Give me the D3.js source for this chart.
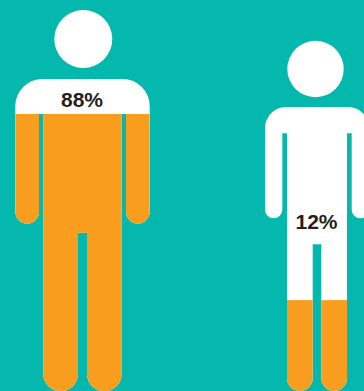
<!DOCTYPE html>
<html>
<head>
<meta charset="utf-8">
<script src="https://cdn.jsdelivr.net/npm/d3@7"></script>
<style>html,body{margin:0;padding:0;background:#05b8ae}svg{display:block}</style>
</head>
<body>
<script>
const labels = ["88%", "12%"];
// Share of each silhouette's body height that is orange, as drawn in the picture
const filledShare = [0.888, 0.32];

const width = 364, height = 391;
const colors = {bg: "#05b8ae", body: "#ffffff", fill: "#f99d1f", text: "#231f20"};

const figures = [
  {headX: 83.3, headY: 39, headR: 29, top: 79, bottom: 391.3, left: 15.3, right: 149.7,
   corner: 27, armIn: 39, bodyL: 43.3, legL: 78, armpit: 114, armEnd: 223.7, crotch: 232.7,
   labelX: 82, labelY: 106.5},
  {headX: 315.5, headY: 69, headR: 28.2, top: 107, bottom: 391, left: 265, right: 369,
   corner: 21, armIn: 282.3, bodyL: 287, legL: 312.7, armpit: 133.3, armEnd: 218.3, crotch: 244.3,
   labelX: 316.5, labelY: 229}
];

function silhouette(f) {
  const mirror = x => f.left + f.right - x;
  const armR = (f.armIn - f.left) / 2;
  const legR = (f.legL - f.bodyL) / 2;
  const p = d3.path();
  p.moveTo(f.left + f.corner, f.top);
  p.lineTo(f.right - f.corner, f.top);
  p.arcTo(f.right, f.top, f.right, f.top + f.corner, f.corner);
  p.lineTo(f.right, f.armEnd - armR);
  p.arc(f.right - armR, f.armEnd - armR, armR, 0, Math.PI);
  p.lineTo(mirror(f.armIn), f.armpit);
  p.lineTo(mirror(f.bodyL), f.armpit);
  p.lineTo(mirror(f.bodyL), f.bottom - legR);
  p.arc(mirror(f.bodyL) - legR, f.bottom - legR, legR, 0, Math.PI);
  p.lineTo(mirror(f.legL), f.crotch);
  p.lineTo(f.legL, f.crotch);
  p.lineTo(f.legL, f.bottom - legR);
  p.arc(f.bodyL + legR, f.bottom - legR, legR, 0, Math.PI);
  p.lineTo(f.bodyL, f.armpit);
  p.lineTo(f.armIn, f.armpit);
  p.lineTo(f.armIn, f.armEnd - armR);
  p.arc(f.left + armR, f.armEnd - armR, armR, 0, Math.PI);
  p.lineTo(f.left, f.top + f.corner);
  p.arcTo(f.left, f.top, f.left + f.corner, f.top, f.corner);
  p.closePath();
  return p.toString();
}

const svg = d3.select("body").append("svg")
  .attr("width", width).attr("height", height)
  .attr("viewBox", [0, 0, width, height]);

svg.append("rect").attr("width", width).attr("height", height).attr("fill", colors.bg);

const defs = svg.append("defs");
const g = svg.selectAll("g.figure").data(figures).join("g").attr("class", "figure");

g.each(function (f, i) {
  const sel = d3.select(this);
  const y = d3.scaleLinear().domain([0, 1]).range([f.bottom, f.top]);
  const d = silhouette(f);

  defs.append("clipPath").attr("id", "clip" + i).append("path").attr("d", d);

  sel.append("circle")
    .attr("cx", f.headX).attr("cy", f.headY).attr("r", f.headR)
    .attr("fill", colors.body);

  sel.append("path").attr("d", d).attr("fill", colors.body);

  sel.append("rect")
    .attr("clip-path", `url(#clip${i})`)
    .attr("x", f.left).attr("width", f.right - f.left)
    .attr("y", y(filledShare[i]))
    .attr("height", y(0) - y(filledShare[i]))
    .attr("fill", colors.fill);

  sel.append("text")
    .attr("x", f.labelX).attr("y", f.labelY)
    .attr("text-anchor", "middle")
    .attr("font-family", "'Liberation Sans', Arial, sans-serif")
    .attr("font-weight", 700)
    .attr("font-size", 21)
    .attr("fill", colors.text)
    .text(labels[i]);
});
</script>
</body>
</html>
